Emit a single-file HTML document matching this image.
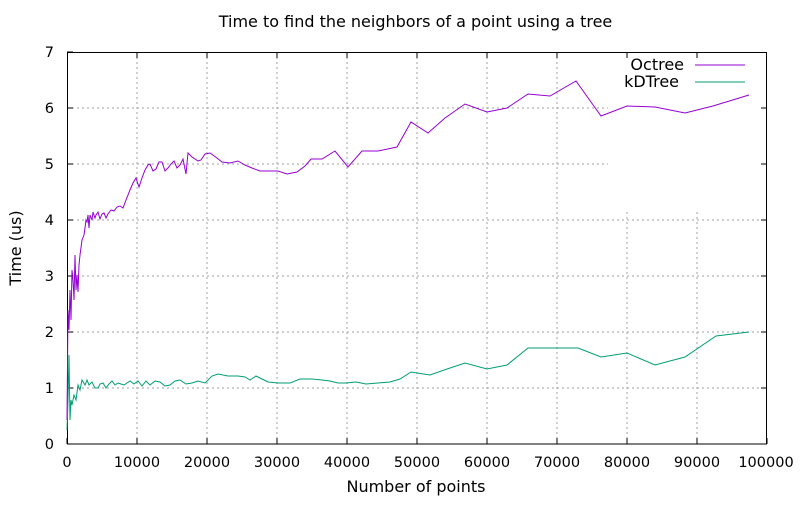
<!DOCTYPE html>
<html><head><meta charset="utf-8"><style>
html,body{margin:0;padding:0;background:#fff;}
svg text{font-family:"DejaVu Sans","Liberation Sans",sans-serif;font-size:16px;fill:#000;}
svg text.t{font-size:14.5px;}
</style></head><body>
<svg width="800" height="500" xmlns="http://www.w3.org/2000/svg">
<g stroke="#a0a0a0" stroke-width="1" stroke-dasharray="2,3" fill="none">
<path d="M137,444V52M207,444V52M277,444V52M347,444V52M417,444V52M487,444V52M557,444V52M627,444V210M697,444V210"/>
<path d="M67,388H767M67,332H767M67,276H767M67,220H767M67,164H608M67,108H608"/>
</g>
<rect x="67.5" y="52.5" width="699" height="391.5" fill="none" stroke="#000"/>
<g stroke="#000">
<path d="M67,444v-6M137,444v-6M207,444v-6M277,444v-6M347,444v-6M417,444v-6M487,444v-6M557,444v-6M627,444v-6M697,444v-6M767,444v-6"/>
<path d="M137,52v6M207,52v6M277,52v6M347,52v6M417,52v6M487,52v6M557,52v6M627,52v6M697,52v6"/>
<path d="M67,444h6M67,388h6M67,332h6M67,276h6M67,220h6M67,164h6M67,108h6M67,52h6"/>
<path d="M767,388h-6M767,332h-6M767,276h-6M767,220h-6M767,164h-6M767,108h-6"/>
</g>
<g text-anchor="end" class="t">
<text class="t" x="54" y="449">0</text><text class="t" x="54" y="393">1</text><text class="t" x="54" y="337">2</text><text class="t" x="54" y="281">3</text><text class="t" x="54" y="225">4</text><text class="t" x="54" y="169">5</text><text class="t" x="54" y="113">6</text><text class="t" x="54" y="57">7</text>
</g>
<g text-anchor="middle">
<text class="t" x="67" y="467">0</text><text class="t" x="137" y="467">10000</text><text class="t" x="207" y="467">20000</text><text class="t" x="277" y="467">30000</text><text class="t" x="347" y="467">40000</text><text class="t" x="417" y="467">50000</text><text class="t" x="487" y="467">60000</text><text class="t" x="557" y="467">70000</text><text class="t" x="627" y="467">80000</text><text class="t" x="697" y="467">90000</text><text class="t" x="766" y="467">100000</text>
<text x="416" y="492">Number of points</text>
<text x="415.5" y="27">Time to find the neighbors of a point using a tree</text>
<text transform="translate(21,248) rotate(-90)">Time (us)</text>
</g>
<text x="684" y="70" text-anchor="end">Octree</text>
<text x="679" y="87" text-anchor="end">kDTree</text>
<path d="M695,65H745" stroke="#9400d3"/>
<path d="M695,82H745" stroke="#009e73"/>
<polyline fill="none" stroke="#9400d3" stroke-width="1" points="67,420 68,310 69,330 70,290 71,320 72,270 73,280 74,300 75,255 76,290 77,275 78,292 79,265 80,255 82,240 84,235 85,228 86,220 87,222 88,215 89,228 90,215 92,220 93,212 95,218 96,215 98,212 100,219 102,214 104,213 106,218 108,214 111,210 114,211 117,207 120,206 123,208 126,200 130,190 133,183 136,178 139,187 142,178 145,170 148,165 150,164 153,171 156,169 159,162 162,162 165,171 168,168 171,164 174,161 177,168 180,165 183,159 186,174 188,153 192,157 198,161 201,160 205,154 210,153 217,158 222,162 230,163 238,161 245,165 252,168 260,171 270,171 278,171 287,174 297,172 305,166 311,159 322,159 335,151 348,167 362,151 378,151 397,147 411,122 428,133 445,118 465,104 487,112 507,108 528,94 550,96 576,81 601,116 627,106 655,107 685,113 713,106 749,95"/>
<polyline fill="none" stroke="#009e73" stroke-width="1" points="67,430 68,400 69,355 70,420 71,400 72,405 74,395 76,400 78,385 80,390 82,380 85,385 87,380 89,385 92,382 95,388 98,388 100,384 103,383 106,388 109,384 112,381 115,385 118,383 121,384 124,385 127,383 130,381 134,384 138,381 142,386 146,381 150,385 155,381 160,382 165,386 170,385 175,381 180,380 186,384 192,383 198,381 205,383 212,376 218,374 228,376 238,376 245,377 250,380 256,376 262,379 268,382 278,383 290,383 300,379 312,379 322,380 330,381 338,383 346,383 356,382 366,384 378,383 390,382 400,379 411,372 430,375 447,369 465,363 487,369 507,365 528,348 550,348 578,348 601,357 627,353 655,365 685,357 716,336 749,332"/>
</svg>
</body></html>
